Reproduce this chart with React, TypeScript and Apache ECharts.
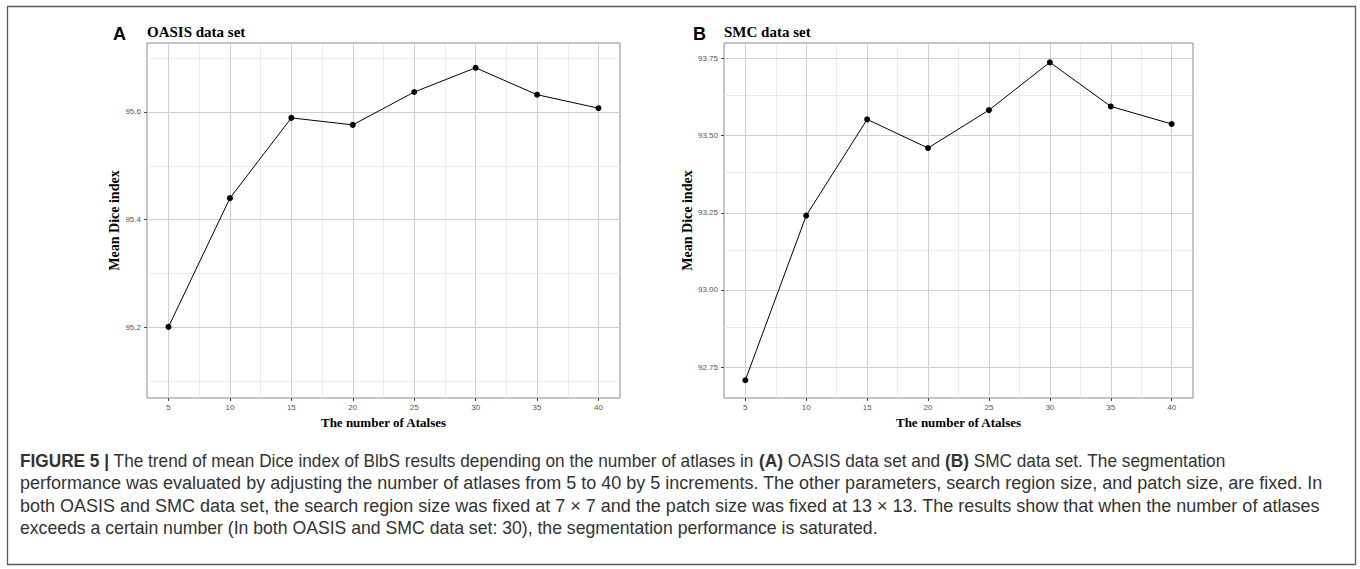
import React, { useEffect, useRef } from "react";
import * as echarts from "echarts";

const xValues = [5, 10, 15, 20, 25, 30, 35, 40];
const oasisDice = [95.201, 95.44, 95.589, 95.576, 95.637, 95.682, 95.632, 95.607];
const smcDice = [92.707, 93.241, 93.553, 93.46, 93.583, 93.738, 93.595, 93.538];

const xTicks = [5, 10, 15, 20, 25, 30, 35, 40];
const xMinor = [7.5, 12.5, 17.5, 22.5, 27.5, 32.5, 37.5];
const oasisYTicks = [95.2, 95.4, 95.6];
const oasisYMinor = [95.1, 95.3, 95.5, 95.7];
const smcYTicks = [92.75, 93.0, 93.25, 93.5, 93.75];
const smcYMinor = [92.875, 93.125, 93.375, 93.625];

const panelLetters = ["A", "B"];
const panelTitles = ["OASIS data set", "SMC data set"];
const xTitle = "The number of Atalses";
const yTitle = "Mean Dice index";

const captionLines = [
  "{b|FIGURE 5 |}{n| The trend of mean Dice index of BlbS results depending on the number of atlases in }{b|(A)}{n| OASIS data set and }{b|(B)}{n| SMC data set. The segmentation}",
  "{n|performance was evaluated by adjusting the number of atlases from 5 to 40 by 5 increments. The other parameters, search region size, and patch size, are fixed. In}",
  "{n|both OASIS and SMC data set, the search region size was fixed at 7 × 7 and the patch size was fixed at 13 × 13. The results show that when the number of atlases}",
  "{n|exceeds a certain number (In both OASIS and SMC data set: 30), the segmentation performance is saturated.}",
];
const captionScaleX = [0.958, 1, 1, 0.98];

const SERIF = "'Liberation Serif', 'DejaVu Serif', serif";
const SANS = "'Liberation Sans', Arial, sans-serif";

const MAJOR = { color: "#cfcfcf", width: 1, type: "solid" as const };
const MINOR = { color: "#e6e6e6", width: 0.8, type: "solid" as const };

function gridLineSeries(idx: number, yMajor: number[], yMinor: number[]) {
  const data: any[] = [];
  xMinor.forEach((v) => data.push({ xAxis: v, lineStyle: MINOR }));
  yMinor.forEach((v) => data.push({ yAxis: v, lineStyle: MINOR }));
  xTicks.forEach((v) => data.push({ xAxis: v, lineStyle: MAJOR }));
  yMajor.forEach((v) => data.push({ yAxis: v, lineStyle: MAJOR }));
  return {
    type: "line",
    xAxisIndex: idx,
    yAxisIndex: idx,
    data: [],
    silent: true,
    z: 1,
    markLine: {
      silent: true,
      symbol: "none",
      label: { show: false },
      animation: false,
      data,
    },
  };
}

function xAxisCfg(idx: number) {
  return {
    type: "value",
    gridIndex: idx,
    min: 3.25,
    max: 41.75,
    splitLine: { show: false },
    axisLine: { show: false },
    axisTick: { show: true, customValues: xTicks, length: 3, lineStyle: { color: "#444", width: 1 } },
    axisLabel: { customValues: xTicks, fontSize: 8, color: "#555", margin: 5, fontFamily: SANS },
    name: xTitle,
    nameLocation: "middle",
    nameGap: 16,
    nameTextStyle: { fontFamily: SERIF, fontWeight: "bold", fontSize: 13, color: "#000" },
  };
}

function yAxisCfg(idx: number, min: number, max: number, ticks: number[], dec: number) {
  return {
    type: "value",
    gridIndex: idx,
    min,
    max,
    splitLine: { show: false },
    axisLine: { show: false },
    axisTick: { show: true, customValues: ticks, length: 3, lineStyle: { color: "#444", width: 1 } },
    axisLabel: {
      customValues: ticks,
      fontSize: 8,
      color: "#555",
      margin: 6,
      fontFamily: SANS,
      formatter: (v: number) => v.toFixed(dec),
    },
    name: yTitle,
    nameLocation: "middle",
    nameGap: 18,
    nameTextStyle: { fontFamily: SERIF, fontWeight: "bold", fontSize: 14, color: "#000" },
  };
}

function dataSeries(idx: number, ys: number[]) {
  return {
    type: "line",
    xAxisIndex: idx,
    yAxisIndex: idx,
    data: xValues.map((x, i) => [x, ys[i]]),
    symbol: "circle",
    symbolSize: 6,
    showSymbol: true,
    lineStyle: { color: "#000", width: 1 },
    itemStyle: { color: "#000" },
    z: 5,
  };
}

export default function App() {
  const ref = useRef<HTMLDivElement>(null);
  useEffect(() => {
    document.body.style.margin = "0";
    const chart = echarts.init(ref.current!, undefined, { renderer: "svg" });
    const grids = [
      { left: 147, top: 43, width: 473, height: 355 },
      { left: 724, top: 43, width: 469, height: 355 },
    ];
    const option: any = {
      animation: false,
      backgroundColor: "#fff",
      grid: grids.map((g) => ({
        ...g,
        show: true,
        borderColor: "#8a8a8a",
        borderWidth: 1,
        backgroundColor: "transparent",
        containLabel: false,
      })),
      xAxis: [xAxisCfg(0), xAxisCfg(1)],
      yAxis: [
        yAxisCfg(0, 95.069, 95.728, oasisYTicks, 1),
        yAxisCfg(1, 92.6495, 93.8006, smcYTicks, 2),
      ],
      series: [
        gridLineSeries(0, oasisYTicks, oasisYMinor),
        gridLineSeries(1, smcYTicks, smcYMinor),
        dataSeries(0, oasisDice),
        dataSeries(1, smcDice),
      ],
      graphic: [
        {
          type: "rect",
          shape: { x: 7.5, y: 6.5, width: 1348, height: 558 },
          style: { fill: "none", stroke: "#5a5a5a", lineWidth: 1.3 },
          silent: true,
          z: 0,
        },
        ...panelLetters.map((t, i) => ({
          type: "text",
          x: i === 0 ? 113 : 693,
          y: 33.5,
          style: {
            text: t,
            font: `bold 18px ${SANS}`,
            fill: "#000",
            verticalAlign: "middle",
          },
        })),
        ...panelTitles.map((t, i) => ({
          type: "text",
          x: i === 0 ? 147 : 724,
          y: 32,
          style: {
            text: t,
            font: `bold 15px ${SERIF}`,
            fill: "#000",
            verticalAlign: "middle",
          },
        })),
        ...captionLines.map((t, i) => ({
          type: "text",
          x: 20,
          y: 461 + i * 22.3,
          scaleX: captionScaleX[i],
          style: {
            text: t,
            font: `18px ${SANS}`,
            fill: "#333",
            verticalAlign: "middle",
            rich: {
              n: { fontSize: 18, fontFamily: SANS, color: "#333" },
              b: { fontSize: 18, fontFamily: SANS, fontWeight: "bold", color: "#222" },
            },
          },
        })),
      ],
    };
    chart.setOption(option);
    return () => chart.dispose();
  }, []);
  return (
    <div
      ref={ref}
      style={{ position: "fixed", left: 0, top: 0, width: 1360, height: 569, background: "#fff" }}
    />
  );
}
